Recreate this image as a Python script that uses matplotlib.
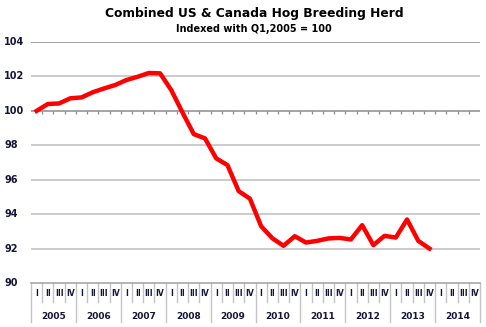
import matplotlib.pyplot as plt
import matplotlib.transforms as mtransforms

# quarterly index, Q1 2005 = 100
years = ['2005', '2006', '2007', '2008', '2009', '2010', '2011', '2012', '2013', '2014']
quarters = ['I', 'II', 'III', 'IV']
herd = [100.0, 100.4, 100.43, 100.73,
        100.78, 101.08, 101.3, 101.5,
        101.79, 101.98, 102.2, 102.18,
        101.2, 99.9, 98.65, 98.4,
        97.24, 96.85, 95.34, 94.9,
        93.3, 92.6, 92.16, 92.72,
        92.35, 92.45, 92.59, 92.62,
        92.53, 93.36, 92.2, 92.74,
        92.64, 93.69, 92.45, 92.0]
yticks = [90, 92, 94, 96, 98, 100, 102, 104]

n_slots = len(years) * len(quarters)
lab_col = '#15153a'

fig = plt.figure(figsize=(4.86, 3.27), dpi=100)
ax = fig.add_axes([31/486, 1 - 283/327, 449/486, 241/327])
ax.set_xlim(0, n_slots)
ax.set_ylim(90, 104)

# gridlines
for v in yticks[1:]:
    col = '#8c8c8c' if v in (100, 104) else '#bdbdbd'
    ax.axhline(v, color=col, lw=1.1, zorder=1)
# tick marks on the 100 line (horizontal axis crosses here)
ax.vlines(range(1, n_slots), 99.83, 100, color='#8c8c8c', lw=0.9, zorder=1)

xs = [i + 0.5 for i in range(len(herd))]
ax.plot(xs, herd, color='#ff0000', lw=3.2, solid_joinstyle='round', zorder=3)

for s in ['top', 'right', 'left']:
    ax.spines[s].set_visible(False)
ax.spines['bottom'].set_color('#a0a0a0')
ax.spines['bottom'].set_linewidth(1.1)
ax.set_xticks([])
ax.set_yticks([])

# y labels, left aligned near the figure edge
ytrans = mtransforms.blended_transform_factory(fig.transFigure, ax.transData)
for v in yticks:
    ax.text(4/486, v, str(v), transform=ytrans, ha='left', va='center',
            fontsize=7, fontweight='bold', color=lab_col)

# two-level category axis
trans = mtransforms.blended_transform_factory(ax.transData, ax.transAxes)
for i in range(n_slots + 1):
    bottom = -0.162 if i % 4 == 0 else -0.079
    ax.plot([i, i], [0, bottom], color='#c4c4c4', lw=1.0, transform=trans, clip_on=False)
for i in range(n_slots):
    ax.text(i + 0.5, -0.043, quarters[i % 4], transform=trans, ha='center', va='center',
            fontsize=5.5, fontweight='bold', color=lab_col)
for j, y in enumerate(years):
    ax.text(j * 4 + 2, -0.137, y, transform=trans, ha='center', va='center',
            fontsize=6.5, fontweight='bold', color=lab_col)

fig.text(254/486, 1 - 14/327, 'Combined US & Canada Hog Breeding Herd', ha='center', va='center',
         fontsize=8.8, fontweight='bold', color='black')
fig.text(254/486, 1 - 29/327, 'Indexed with Q1,2005 = 100', ha='center', va='center',
         fontsize=7, fontweight='bold', color='black')

fig.savefig('out.png', dpi=100)
